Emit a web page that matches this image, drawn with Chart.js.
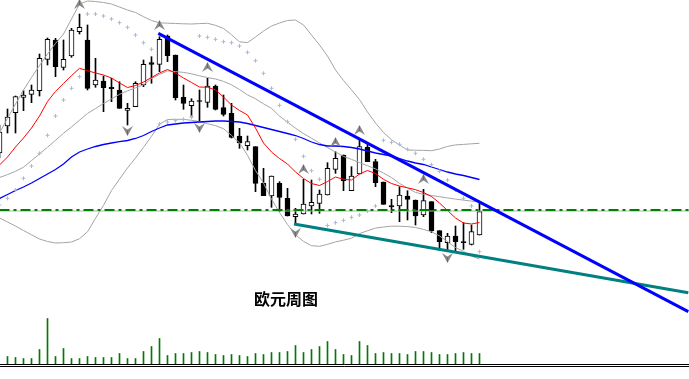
<!DOCTYPE html>
<html><head><meta charset="utf-8">
<script src="https://cdn.jsdelivr.net/npm/chart.js@4.4.1/dist/chart.umd.min.js"></script>
<style>
html,body{margin:0;padding:0;background:#fff;}
#wrap{position:relative;width:689px;height:379px;overflow:hidden;background:#fff;}
#lbl{position:absolute;left:254px;top:288px;font-family:"Noto Sans CJK SC",sans-serif;font-weight:bold;font-size:16px;line-height:20px;color:#000;white-space:nowrap;}
</style></head>
<body>
<div id="wrap"><canvas id="c" width="689" height="379"></canvas><div id="lbl">欧元周图</div></div>
<script>
// weekly candles (index 0..60)
const open  = [1.4470,1.4740,1.4873,1.5027,1.5057,1.5093,1.5407,1.5600,1.5327,1.5440,1.5683,1.5600,1.5150,1.5190,1.5127,1.5100,1.4897,1.4933,1.5150,1.5373,1.5357,1.5640,1.5450,1.5027,1.4943,1.4995,1.4977,1.5140,1.4923,1.4867,1.4640,1.4543,1.4533,1.4167,1.4040,1.4167,1.4017,1.3833,1.3860,1.3940,1.3967,1.4050,1.4307,1.4450,1.4093,1.4260,1.4527,1.4383,1.4180,1.3943,1.3940,1.4040,1.4000,1.3850,1.3983,1.3693,1.3573,1.3640,1.3583,1.3557,1.3650];
const high  = [1.4750,1.4910,1.5040,1.5093,1.5150,1.5460,1.5620,1.5617,1.5600,1.5717,1.5860,1.5750,1.5417,1.5240,1.5217,1.5183,1.4967,1.5183,1.5400,1.5433,1.5633,1.5650,1.5450,1.5150,1.5013,1.5100,1.5217,1.5150,1.5050,1.4967,1.4717,1.4640,1.4533,1.4317,1.4240,1.4183,1.4117,1.3917,1.4207,1.4200,1.4100,1.4373,1.4483,1.4450,1.4333,1.4607,1.4567,1.4407,1.4180,1.4007,1.4133,1.4093,1.4000,1.4107,1.3983,1.3693,1.3667,1.3740,1.3773,1.3750,1.3973];
const low   = [1.4420,1.4670,1.4670,1.4893,1.4973,1.5040,1.5350,1.5233,1.5300,1.5427,1.5660,1.5100,1.5127,1.4883,1.4983,1.4917,1.4750,1.4933,1.5133,1.5167,1.5283,1.5383,1.5000,1.4907,1.4833,1.4793,1.4927,1.4900,1.4840,1.4620,1.4517,1.4500,1.4083,1.4043,1.3927,1.3883,1.3840,1.3767,1.3860,1.3860,1.3867,1.4050,1.4267,1.4093,1.4093,1.4260,1.4383,1.4133,1.3957,1.3873,1.3783,1.3800,1.3750,1.3833,1.3673,1.3500,1.3493,1.3473,1.3507,1.3550,1.3650];
const close = [1.4680,1.4830,1.5033,1.5050,1.5100,1.5417,1.5607,1.5333,1.5407,1.5700,1.5727,1.5117,1.5200,1.5123,1.5113,1.4917,1.4917,1.5167,1.5357,1.5357,1.5607,1.5443,1.5023,1.4967,1.4990,1.4985,1.5140,1.4907,1.4857,1.4627,1.4570,1.4583,1.4167,1.4043,1.4240,1.4027,1.3840,1.3860,1.3960,1.3977,1.4060,1.4317,1.4417,1.4193,1.4240,1.4533,1.4383,1.4173,1.3957,1.3930,1.4050,1.4007,1.3840,1.3993,1.3690,1.3583,1.3640,1.3583,1.3573,1.3683,1.3883];
const volume = [null,8,7,6,6,15,46,8,16,6,6,8,7,7,7,11,6,6,13,18,26,9,11,11,12,13,12,10,9,10,9,8,11,10,12,12,13,19,12,15,18,23,15,10,9,23,19,11,12,11,11,10,13,13,12,10,10,11,12,11,11];
// indicators
const maFast = [1.4350,1.4430,1.4530,1.4620,1.4720,1.4840,1.4985,1.5086,1.5166,1.5243,1.5317,1.5293,1.5270,1.5250,1.5220,1.5170,1.5125,1.5145,1.5180,1.5225,1.5270,1.5305,1.5270,1.5220,1.5175,1.5130,1.5127,1.5100,1.5030,1.4950,1.4895,1.4850,1.4720,1.4570,1.4480,1.4415,1.4360,1.4280,1.4215,1.4165,1.4145,1.4185,1.4230,1.4207,1.4200,1.4260,1.4295,1.4265,1.4207,1.4165,1.4140,1.4122,1.4103,1.4075,1.4035,1.3970,1.3895,1.3820,1.3770,1.3760,1.3775];
const maSlow = [1.4015,1.4055,1.4095,1.4130,1.4170,1.4215,1.4260,1.4305,1.4360,1.4430,1.4480,1.4510,1.4535,1.4555,1.4570,1.4583,1.4595,1.4615,1.4645,1.4685,1.4720,1.4750,1.4760,1.4770,1.4775,1.4780,1.4785,1.4790,1.4790,1.4785,1.4780,1.4765,1.4745,1.4725,1.4705,1.4685,1.4665,1.4645,1.4615,1.4580,1.4555,1.4540,1.4540,1.4535,1.4525,1.4510,1.4490,1.4470,1.4455,1.4440,1.4415,1.4390,1.4370,1.4355,1.4330,1.4305,1.4280,1.4260,1.4245,1.4225,1.4205];
const bbUpper = [1.4670,1.4817,1.4960,1.5100,1.5225,1.5345,1.5460,1.5565,1.5660,1.5810,1.5960,1.5990,1.5985,1.5975,1.5960,1.5930,1.5900,1.5875,1.5833,1.5795,1.5772,1.5768,1.5765,1.5762,1.5760,1.5764,1.5767,1.5747,1.5715,1.5653,1.5582,1.5574,1.5630,1.5690,1.5740,1.5770,1.5795,1.5800,1.5750,1.5650,1.5550,1.5440,1.5300,1.5195,1.5102,1.5004,1.4880,1.4770,1.4675,1.4603,1.4550,1.4500,1.4498,1.4496,1.4493,1.4510,1.4536,1.4551,1.4556,1.4562,1.4567];
const bbMid = [1.4225,1.4254,1.4287,1.4328,1.4394,1.4461,1.4527,1.4597,1.4667,1.4731,1.4798,1.4865,1.4915,1.4965,1.5011,1.5057,1.5091,1.5122,1.5152,1.5215,1.5255,1.5292,1.5284,1.5276,1.5262,1.5242,1.5225,1.5210,1.5186,1.5152,1.5105,1.5051,1.5012,1.4962,1.4916,1.4839,1.4778,1.4718,1.4664,1.4618,1.4570,1.4524,1.4480,1.4436,1.4406,1.4374,1.4343,1.4311,1.4269,1.4224,1.4166,1.4119,1.4076,1.4057,1.4045,1.4033,1.4021,1.4009,1.3999,1.3989,1.3981];
const bbLower = [1.3820,1.3780,1.3740,1.3695,1.3652,1.3610,1.3585,1.3570,1.3573,1.3580,1.3613,1.3682,1.3817,1.3947,1.4095,1.4209,1.4321,1.4420,1.4527,1.4637,1.4758,1.4805,1.4807,1.4807,1.4797,1.4784,1.4763,1.4743,1.4713,1.4646,1.4572,1.4447,1.4295,1.4169,1.4008,1.3875,1.3755,1.3654,1.3586,1.3543,1.3537,1.3557,1.3581,1.3598,1.3618,1.3664,1.3693,1.3719,1.3730,1.3738,1.3738,1.3734,1.3725,1.3706,1.3682,1.3641,1.3583,1.3525,1.3486,1.3439,1.3410];
const sar = [1.3950,1.4017,1.4100,1.4217,1.4340,1.4467,1.4647,1.4840,1.5000,1.5117,1.5233,1.5860,1.5860,1.5840,1.5810,1.5773,1.5727,1.5650,1.5573,1.5507,1.4760,1.4780,1.4793,1.4807,1.4827,1.5640,1.5627,1.5607,1.5583,1.5573,1.5540,1.5477,1.5393,1.5267,1.5117,1.4947,1.4783,1.4607,1.4437,1.4293,1.4207,1.3745,1.3773,1.3797,1.3827,1.3850,1.3890,1.3940,1.4597,1.4577,1.4557,1.4507,1.4467,1.4407,1.4353,1.4287,1.4200,1.4100,1.4017,1.3940,1.3483];
const fractalUpIdx = [10,20,26,38,42,45,53];
const fractalUpVal = [1.5960,1.5750,1.5330,1.4310,1.4580,1.4700,1.4210];
const fractalDnIdx = [16,25,37,56];
const fractalDnVal = [1.4690,1.4720,1.3670,1.3420];
// drawn lines
const resistX = [19.85,86.1], resistY = [1.5667,1.2883];
const supportX = [36.81,86.1], supportY = [1.3760,1.3073];
const levelPrice = 1.3900, levelShadow = 1.3890;

const idx = open.map((_, i) => i);
const pts = arr => arr.map((v, i) => ({x: i, y: v}));
function arrow(up){
  const c = document.createElement('canvas'); c.width = 11; c.height = 10;
  const g = c.getContext('2d'); g.fillStyle = '#8a8a8a';
  g.beginPath();
  if (up){ g.moveTo(5.5,0); g.lineTo(11,10); g.lineTo(5.5,6.5); g.lineTo(0,10); }
  else { g.moveTo(5.5,10); g.lineTo(11,0); g.lineTo(5.5,3.5); g.lineTo(0,0); }
  g.closePath(); g.fill();
  g.strokeStyle = '#6a6a6a'; g.lineWidth = 1; g.beginPath();
  if (up){ g.moveTo(5.5,1); g.lineTo(5.5,6); } else { g.moveTo(5.5,4); g.lineTo(5.5,9); }
  g.stroke();
  return c;
}
const upImg = arrow(true), dnImg = arrow(false);
const lineDs = (data, color, width, order, extra) => Object.assign({type:'line', data, borderColor:color, borderWidth:width, pointRadius:0, tension:0, fill:false, yAxisID:'y', order}, extra||{});

new Chart(document.getElementById('c'), {
  type: 'bar',
  data: { datasets: [
    lineDs([{x:0,y:0},{x:87,y:0}], '#000', 1, 0, {yAxisID:'y2'}),
    lineDs([{x:0,y:-2},{x:87,y:-2}], '#000', 1, 0, {yAxisID:'y2'}),
    lineDs(resistX.map((x,i)=>({x, y:resistY[i]})), '#0000ff', 3, 1),
    lineDs(supportX.map((x,i)=>({x, y:supportY[i]})), '#008080', 3, 1),
    lineDs([{x:0,y:levelPrice},{x:87,y:levelPrice}], '#008000', 2, 2, {borderDash:[10,4,3,4]}),
    lineDs([{x:0,y:levelShadow},{x:87,y:levelShadow}], '#b0b0b0', 1, 3),
    {type:'scatter', data: fractalUpIdx.map((x,i)=>({x, y:fractalUpVal[i]})), pointStyle: upImg, pointRadius:5, yAxisID:'y', order:3},
    {type:'scatter', data: fractalDnIdx.map((x,i)=>({x, y:fractalDnVal[i]})), pointStyle: dnImg, pointRadius:5, yAxisID:'y', order:3},
    {type:'scatter', data: pts(sar), pointStyle:'cross', pointRadius:2, borderColor:'#a9b9d6', borderWidth:1, yAxisID:'y', order:4},
    lineDs(pts(maFast), '#ff0000', 1, 5),
    lineDs(pts(maSlow), '#0000ff', 1.3, 5),
    lineDs(pts(bbUpper), '#a4a4a4', 1, 6),
    lineDs(pts(bbMid), '#a4a4a4', 1, 6),
    lineDs(pts(bbLower), '#a4a4a4', 1, 6),
    {type:'bar', data: idx.map(i=>({x:i, y:[open[i], close[i]]})), barThickness:5, grouped:false,
      backgroundColor: idx.map(i=> close[i] >= open[i] ? '#ffffff' : '#000000'),
      borderColor:'#000', borderWidth:1, borderSkipped:false, yAxisID:'y', order:7},
    {type:'bar', data: idx.map(i=>({x:i, y:[low[i], high[i]]})), barThickness:1, grouped:false,
      backgroundColor:'#000', borderWidth:0, yAxisID:'y', order:8},
    {type:'bar', data: idx.filter(i=>volume[i]!=null).map(i=>({x:i, y:volume[i]})), barThickness:1, grouped:false,
      backgroundColor:'#007a00', borderWidth:0, yAxisID:'y2', order:9}
  ]},
  options: {
    responsive:false, animation:false, events:[],
    layout:{padding:0, autoPadding:false},
    plugins:{legend:{display:false}, tooltip:{enabled:false}, title:{display:false}},
    scales:{
      x:{type:'linear', min:0.0625, max:86.1875, display:false, offset:false},
      y:{min:1.221, max:1.6, display:false},
      y2:{min:-14.5, max:364.5, display:false}
    }
  }
});
</script>
</body></html>
